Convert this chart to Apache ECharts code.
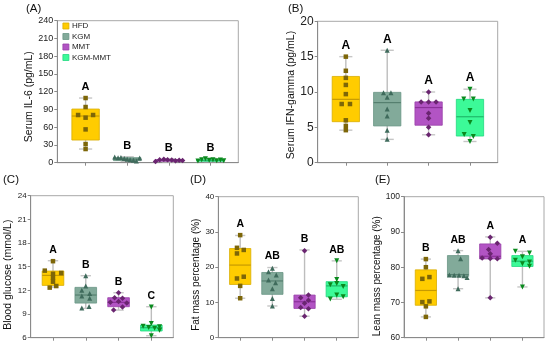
<!DOCTYPE html>
<html><head><meta charset="utf-8">
<script src="https://cdn.jsdelivr.net/npm/echarts@6/dist/echarts.min.js"></script>
<style>html,body{margin:0;padding:0;background:#fff}#c{width:550px;height:345px}</style>
</head><body><div id="c"></div>
<script>
// ---------- DATA ----------
const groups = ['HFD', 'KGM', 'MMT', 'KGM-MMT'];

// box stats per group: [min, Q1, median, Q3, max]
const boxA = [[23.1, 38.3, 78.9, 90.7, 109.3], [2.5, 3.5, 6, 8.5, 10], [1.5, 2.5, 4, 5, 6.5], [2, 2.5, 3.8, 5, 7]];
const boxB = [[4.6, 5.8, 8.96, 12.2, 15.0], [3.3, 5.2, 8.5, 9.95, 15.9], [3.95, 5.3, 7.8, 8.6, 10.0], [3.0, 3.77, 6.5, 8.96, 10.4]];
const boxC = [[12.38, 12.63, 13.9, 14.45, 15.76], [9.72, 10.39, 11.41, 12.38, 13.86], [9.5, 9.93, 10.48, 11.07, 11.7], [6.25, 6.85, 7.27, 7.6, 9.93]];
const boxD = [[11.2, 15.1, 20.6, 25.3, 29.0], [9.0, 12.3, 16.1, 18.5, 19.9], [6.1, 8.3, 10.2, 12.1, 24.9], [10.9, 11.6, 14.7, 15.9, 21.8]];
const boxE = [[65.9, 69.2, 73.4, 79.25, 82.3], [73.9, 77.4, 77.9, 83.3, 84.7], [71.3, 82.35, 83.1, 86.6, 88.6], [74.4, 80.2, 81.7, 83.3, 84.5]];

// individual points per group
const pointsA = [[109.3, 94.1, 80.6, 80.6, 76.1, 56.3, 31.5, 23.1], [9.5, 8.5, 9, 7, 6, 5, 4, 3, 8], [2, 5, 6, 5, 4.5, 3.5, 4, 3.8], [3, 5, 6.5, 4, 5, 3.5, 4.5, 3.2]];
const pointsB = [[15, 13, 12, 11, 9.7, 8.3, 8.3, 6, 5.2, 4.6], [15.9, 9.9, 9.9, 9.25, 7.6, 6.6, 4.6, 3.3], [10, 8.6, 8.6, 8.6, 7.0, 6.3, 5.0, 3.95], [10.4, 9.0, 9.0, 7.4, 5.7, 4.0, 3.7, 3.0]];
const pointsC = [[15.7, 14.5, 14.2, 14.1, 13.6, 13.1, 12.55, 12.35], [13.85, 12.55, 12.0, 11.6, 11.3, 11.0, 9.95, 9.75], [11.7, 11.05, 11.0, 10.6, 10.5, 10.4, 9.9, 9.5], [9.9, 7.8, 7.45, 7.4, 7.3, 7.2, 6.95, 6.25]];
const pointsD = [[29.1, 25.5, 24.9, 23.9, 17.3, 16.8, 14.7, 11.2], [19.7, 18.7, 17.8, 16.4, 15.6, 13.9, 11.1, 9.0], [24.7, 12.1, 11.3, 10.6, 9.8, 8.6, 8.2, 6.1], [21.8, 16.5, 15.4, 15.0, 14.5, 12.1, 11.6, 11.0]];
const pointsE = [[82.3, 80.0, 77.2, 76.7, 70.3, 70.1, 68.9, 65.9], [84.7, 82.4, 77.8, 77.7, 77.7, 77.6, 77.1, 73.9], [88.5, 86.8, 85.0, 83.8, 82.6, 82.5, 82.4, 71.3], [84.5, 84.0, 83.0, 82.0, 81.5, 81.0, 80.3, 74.4]];

// significance letters
const lettersA = ['A', 'B', 'B', 'B'];
const lettersB = ['A', 'A', 'A', 'A'];
const lettersC = ['A', 'B', 'B', 'C'];
const lettersD = ['A', 'AB', 'B', 'AB'];
const lettersE = ['B', 'AB', 'A', 'A'];

// y-axis ticks [min, max, step]
const ticksA = [0, 240, 30];
const ticksB = [0, 20, 5];
const ticksC = [6, 24, 3];
const ticksD = [0, 40, 10];
const ticksE = [60, 100, 10];

// ---------- LAYOUT / STYLE ----------
// horizontal jitter of points (category units)
const jitterA = [[0, 0, -0.18, 0.18, 0, 0, 0, 0], [-0.3, -0.22, -0.15, -0.07, 0, 0.07, 0.15, 0.22, 0.3], [-0.32, -0.22, -0.12, -0.03, 0.07, 0.16, 0.25, 0.33], [-0.3, -0.21, -0.12, -0.03, 0.06, 0.15, 0.24, 0.32]];
const jitterB = [[0, 0, 0, 0, 0, -0.1, 0.1, 0, 0, 0], [0, -0.09, 0.09, 0, 0, 0, 0, 0], [0, -0.18, 0, 0.18, 0, 0, 0, 0], [0, -0.15, 0.08, 0, 0, -0.14, 0.08, 0]];
const jitterC = [[0, -0.25, 0.25, 0, 0, 0, 0.1, -0.1], [0, 0, -0.12, 0.12, -0.12, 0.12, 0.1, -0.12], [0, -0.12, 0.12, 0, -0.25, 0.25, 0.12, -0.15], [0, 0, -0.25, 0.25, -0.08, 0.1, 0.25, 0]];
const jitterD = [[0, -0.1, 0.11, -0.1, 0.11, -0.1, 0, 0], [0, -0.12, 0.12, -0.12, 0.1, 0, 0, 0], [0, 0.12, -0.12, 0.12, 0, -0.12, 0.12, 0], [0, 0, 0, -0.2, 0.2, 0, 0.2, -0.2]];
const jitterE = [[0, 0, 0.11, -0.11, 0.11, -0.11, 0, 0], [0, 0.08, -0.27, -0.12, 0.03, 0.18, 0.28, 0], [0, 0.22, -0.05, 0, -0.25, 0, 0.22, 0], [-0.22, 0.22, 0, -0.22, 0.22, 0, 0.22, 0]];

const FONT = '"Liberation Sans", Arial, sans-serif';
const fills = ['#ffcc00', '#82aa9a', '#b254c4', '#3cfa98'];
const borders = ['#d9ad00', '#6a9585', '#9840a8', '#22d880'];
const medians = ['#c79a00', '#557f6f', '#8a3098', '#1fb86a'];
const markers = ['#7d6608', '#3f6b5c', '#6a2570', '#0a8a1e'];
const symbols = ['rect', 'triangle', 'diamond', 'triangle'];
const symSizes = [4.5, 5, 5.5, 5];
const symRot = [0, 0, 0, 180];
const BOX_W = 0.66;

const panels = [
  {box: boxA, pts: pointsA, jit: jitterA, letters: lettersA, ticks: ticksA, title: 'Serum IL-6 (pg/mL)', label: '(A)', lx: 26, ly: 3,
   grid: {left: 57.3, top: 20.7, width: 181, height: 142}, tickFont: 9, nameFont: 10.5, nameGap: 19, namePad: 10, letterFont: 11},
  {box: boxB, pts: pointsB, jit: jitterB, letters: lettersB, ticks: ticksB, title: 'Serum IFN-gamma (pg/mL)', label: '(B)', lx: 288, ly: 3,
   grid: {left: 317.7, top: 21.3, width: 180, height: 141.4}, tickFont: 12, nameFont: 10.5, nameGap: 16, namePad: 6, letterFont: 12},
  {box: boxC, pts: pointsC, jit: jitterC, letters: lettersC, ticks: ticksC, title: 'Blood glucose (mmol/L)', label: '(C)', lx: 3, ly: 174,
   grid: {left: 30.7, top: 195.7, width: 142.6, height: 142}, tickFont: 8, nameFont: 10.5, nameGap: 17.5, namePad: 16, letterFont: 10.5},
  {box: boxD, pts: pointsD, jit: jitterD, letters: lettersD, ticks: ticksD, title: 'Fat mass percentage (%)', label: '(D)', lx: 190, ly: 174,
   grid: {left: 218.3, top: 196.7, width: 140, height: 141}, tickFont: 8, nameFont: 10, nameGap: 13, namePad: 15, letterFont: 10.5},
  {box: boxE, pts: pointsE, jit: jitterE, letters: lettersE, ticks: ticksE, title: 'Lean mass percentage (%)', label: '(E)', lx: 375, ly: 174,
   grid: {left: 404, top: 196.7, width: 140, height: 141}, tickFont: 8.5, nameFont: 10, nameGap: 14, namePad: 18, letterFont: 10.5}
];

function makeRender(p, g) {
  return function (params, api) {
    const x = api.value(0);
    const c = k => api.coord([x, api.value(k)]);
    const pMin = c(1), pQ1 = c(2), pMed = c(3), pQ3 = c(4), pMax = c(5);
    const hw = api.size([BOX_W, 0])[0] / 2;
    const cx = pMin[0];
    const cap = hw * 0.48;
    return {
      type: 'group',
      children: [
        {type: 'line', shape: {x1: cx, y1: pMax[1], x2: cx, y2: pMin[1]}, style: {stroke: '#bdbdbd', lineWidth: 1.4}},
        {type: 'line', shape: {x1: cx - cap, y1: pMax[1], x2: cx + cap, y2: pMax[1]}, style: {stroke: '#c6c6c6', lineWidth: 1.4}},
        {type: 'line', shape: {x1: cx - cap, y1: pMin[1], x2: cx + cap, y2: pMin[1]}, style: {stroke: '#c6c6c6', lineWidth: 1.4}},
        {type: 'rect', shape: {x: cx - hw, y: pQ3[1], width: 2 * hw, height: pQ1[1] - pQ3[1]}, style: {fill: fills[g], stroke: borders[g], lineWidth: 0.8}},
        {type: 'line', shape: {x1: cx - hw, y1: pMed[1], x2: cx + hw, y2: pMed[1]}, style: {stroke: medians[g], lineWidth: 1.2}},
        {type: 'text', x: cx, y: pMax[1] - 11, style: {text: p.letters[g], fill: '#000', fontSize: p.letterFont, fontWeight: 'bold', fontFamily: FONT, align: 'center', verticalAlign: 'middle'}}
      ]
    };
  };
}

const option = {
  animation: false,
  backgroundColor: '#fff',
  textStyle: {fontFamily: FONT},
  title: panels.map(p => ({text: p.label, left: p.lx, top: p.ly, padding: 0, textStyle: {fontSize: 11.5, fontWeight: 'normal', color: '#111', fontFamily: FONT}})),
  legend: {
    orient: 'vertical', left: 62.5, top: 21, padding: 0, itemWidth: 6, itemHeight: 6, itemGap: 0.5,
    selectedMode: false, icon: 'rect',
    textStyle: {fontSize: 8, color: '#222', lineHeight: 10, fontFamily: FONT, padding: [0, 0, 0, -2]},
    data: groups.map((g, i) => ({name: g, itemStyle: {color: fills[i], borderColor: borders[i], borderWidth: 0.8}}))
  },
  grid: panels.map(p => Object.assign({show: true, borderColor: '#a8a8a8', borderWidth: 1, backgroundColor: 'transparent'}, p.grid)),
  xAxis: panels.map((p, i) => ({
    type: 'value', gridIndex: i, min: -0.68, max: 3.67,
    axisLabel: {show: false}, splitLine: {show: false},
    axisLine: {show: true, onZero: false, lineStyle: {color: '#8a8a8a'}},
    axisTick: {show: true, customValues: [0, 1, 2, 3], length: 3, lineStyle: {color: '#8a8a8a'}}
  })),
  yAxis: panels.map((p, i) => ({
    type: 'value', gridIndex: i, min: p.ticks[0], max: p.ticks[1], interval: p.ticks[2],
    axisLine: {show: true, onZero: false, lineStyle: {color: '#8a8a8a'}},
    axisTick: {show: true, length: 3, lineStyle: {color: '#8a8a8a'}},
    axisLabel: {fontSize: p.tickFont, color: '#222', margin: 4, fontFamily: FONT},
    splitLine: {show: false},
    name: p.title, nameLocation: 'middle', nameGap: p.nameGap, nameRotate: 90,
    nameTextStyle: {fontSize: p.nameFont, color: '#111', fontFamily: FONT, padding: [0, p.namePad, 0, 0]}
  })),
  series: []
};

panels.forEach((p, i) => {
  groups.forEach((name, g) => {
    option.series.push({
      type: 'custom', name: name, xAxisIndex: i, yAxisIndex: i, z: 2, silent: true,
      itemStyle: {color: fills[g]},
      data: [[g].concat(p.box[g])],
      renderItem: makeRender(p, g)
    });
  });
  groups.forEach((name, g) => {
    option.series.push({
      type: 'scatter', name: name, xAxisIndex: i, yAxisIndex: i, z: 5, silent: true,
      symbol: symbols[g], symbolSize: symSizes[g], symbolRotate: symRot[g],
      itemStyle: {color: markers[g], opacity: 1},
      data: p.pts[g].map((v, k) => [g + p.jit[g][k], v])
    });
  });
});

const chart = echarts.init(document.getElementById('c'), null, {renderer: 'canvas'});
chart.setOption(option);
</script></body></html>
